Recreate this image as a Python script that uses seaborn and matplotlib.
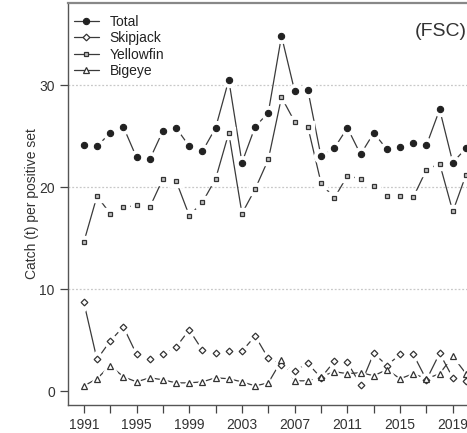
import matplotlib
matplotlib.use("Agg")
import matplotlib.pyplot as plt
from matplotlib.lines import Line2D
import pandas as pd
import seaborn as sns

# Annual catch per positive set (t) by species, 1991-2020
years = list(range(1991, 2021))
total = [24.1, 24.0, 25.3, 25.9, 22.9, 22.7, 25.5, 25.8, 24.0, 23.5,
         25.8, 30.5, 22.4, 25.9, 27.3, 34.8, 29.4, 29.5, 23.0, 23.8,
         25.8, 23.2, 25.3, 23.7, 23.9, 24.3, 24.1, 27.6, 22.4, 23.8]
skipjack = [8.7, 3.1, 4.9, 6.3, 3.6, 3.1, 3.6, 4.3, 6.0, 4.0,
            3.7, 3.9, 3.9, 5.4, 3.2, 2.6, 2.0, 2.7, 1.3, 2.9,
            2.8, 0.6, 3.7, 2.5, 3.6, 3.6, 1.1, 3.7, 1.3, 1.0]
yellowfin = [14.6, 19.1, 17.4, 18.0, 18.2, 18.0, 20.8, 20.6, 17.2, 18.5,
             20.8, 25.3, 17.4, 19.8, 22.7, 28.8, 26.4, 25.9, 20.4, 18.9,
             21.1, 20.8, 20.1, 19.1, 19.1, 19.0, 21.7, 22.3, 17.6, 21.2]
bigeye = [0.5, 1.2, 2.5, 1.4, 0.9, 1.3, 1.1, 0.8, 0.8, 0.9,
          1.3, 1.2, 0.9, 0.5, 0.8, 3.0, 1.0, 1.0, 1.4, 1.9,
          1.7, 1.8, 1.5, 2.1, 1.2, 1.7, 1.2, 1.7, 3.4, 1.7]
series_names = ["Total", "Skipjack", "Yellowfin", "Bigeye"]
panel_label = "(FSC)"
y_label = "Catch (t) per positive set"

df = pd.DataFrame({
    "year": years * 4,
    "value": total + skipjack + yellowfin + bigeye,
    "species": sum([[n] * len(years) for n in series_names], []),
})

sns.set_theme(style="white")
plt.rcParams["font.family"] = ["Liberation Sans", "DejaVu Sans"]

W, H = 467, 433
fig = plt.figure(figsize=(W / 100, H / 100), dpi=100)
ax = fig.add_axes([68 / W, (H - 405) / H, (495 - 68) / W, (405 - 3) / H])

ink = "#222222"
edge = "#333333"
styles = {
    "Total":     dict(marker="o", ms=4.5, fc=ink, ec=ink, mew=0.8),
    "Skipjack":  dict(marker="D", ms=3.4, fc="white", ec=edge, mew=0.9),
    "Yellowfin": dict(marker="s", ms=3.4, fc="#c0c0c0", ec=edge, mew=0.9),
    "Bigeye":    dict(marker="^", ms=4.4, fc="white", ec=edge, mew=0.9),
}

# light dotted reference lines
for g in (10, 20, 30):
    ax.axhline(g, color="#c8c8c8", lw=0.9, ls=(0, (1.5, 1.5)), zorder=0)

# connecting lines
for name in series_names:
    sub = df[df.species == name]
    sns.lineplot(data=sub, x="year", y="value", ax=ax, color="#3a3a3a",
                 lw=0.9, legend=False, zorder=2, estimator=None)

# white gaps around the points, then the points themselves
for k, name in enumerate(series_names):
    sub = df[df.species == name]
    st = styles[name]
    ax.plot(sub.year, sub.value, ls="none", marker=st["marker"],
            ms=st["ms"] + 5.5, mfc="white", mec="white", zorder=3 + k * 0.1)
for k, name in enumerate(series_names):
    sub = df[df.species == name]
    st = styles[name]
    ax.plot(sub.year, sub.value, ls="none", marker=st["marker"], ms=st["ms"],
            mfc=st["fc"], mec=st["ec"], mew=st["mew"], zorder=4 + k * 0.1)

ax.set_xlim(1989.8, 2022.2)
ax.set_ylim(-1.37, 38.04)
ax.set_xticks(range(1991, 2022, 2))
ax.set_xticklabels([str(y) if (y - 1991) % 4 == 0 else "" for y in range(1991, 2022, 2)])
ax.set_yticks([0, 10, 20, 30])
ax.tick_params(axis="both", which="major", direction="out", length=5.5, width=0.9,
               color="#444444", labelsize=10, labelcolor="#333333", pad=4,
               bottom=True, left=True)
ax.set_xlabel("")
ax.set_ylabel(y_label, fontsize=10, color="#333333", labelpad=0)
for s in ax.spines.values():
    s.set_color("#555555")
    s.set_linewidth(1.0)
ax.spines["top"].set_color("#888888")
ax.spines["top"].set_linewidth(1.6)

fig.text(415 / W, 1 - 31 / H, panel_label, fontsize=14, color="#333333",
         ha="left", va="center")

handles = []
for name in series_names:
    st = styles[name]
    handles.append(Line2D([0], [0], color="#3a3a3a", lw=0.9, marker=st["marker"],
                          ms=st["ms"], mfc=st["fc"], mec=st["ec"], mew=st["mew"]))
leg = ax.legend(handles, series_names, loc="upper left",
                bbox_to_anchor=(0.0, 0.985), frameon=False, fontsize=10,
                handlelength=1.8, handletextpad=0.8, labelspacing=0.18,
                borderaxespad=0.2, borderpad=0.2)
for t in leg.get_texts():
    t.set_color("#222222")

fig.savefig("out.png", dpi=100)
